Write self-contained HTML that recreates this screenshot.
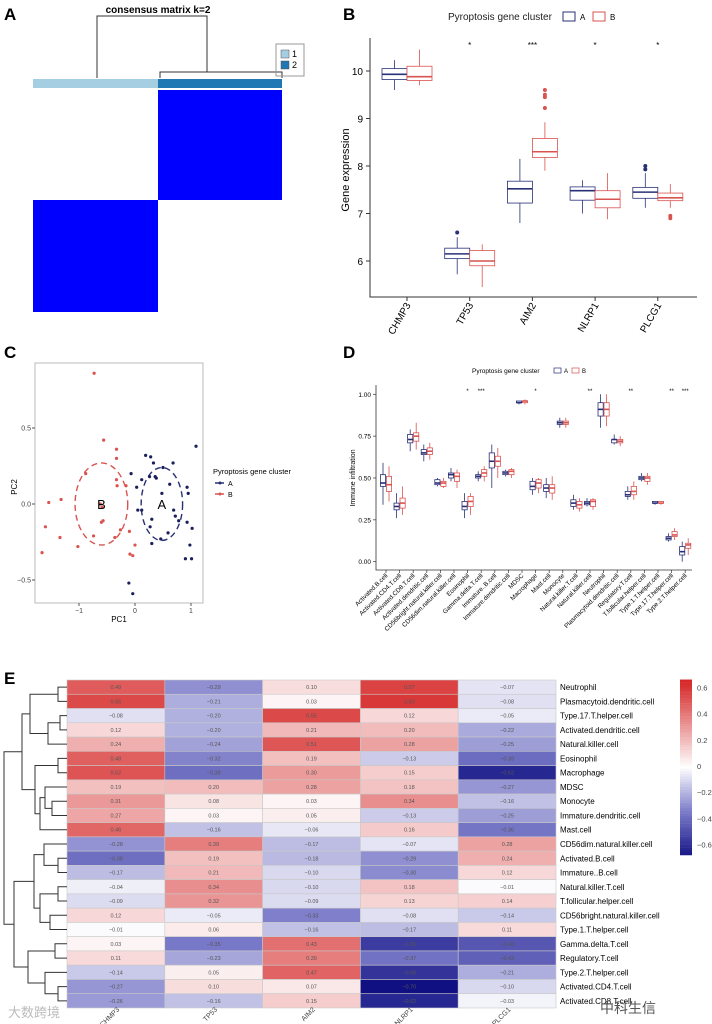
<!DOCTYPE html>
<html><head><meta charset="utf-8"><style>
body{margin:0;background:#fff}
svg{display:block;font-family:"Liberation Sans",Arial,sans-serif}
</style></head><body>
<svg id="fig" width="712" height="1024" viewBox="0 0 712 1024">
<g font-weight="bold" font-size="17">
<text x="4" y="20">A</text><text x="343" y="20">B</text><text x="4" y="358">C</text><text x="343" y="358">D</text><text x="4" y="684">E</text>
</g>
<!-- Panel A -->
<g>
<text x="158" y="13" text-anchor="middle" font-size="10" font-weight="bold">consensus matrix k=2</text>
<path d="M97 78V16H207V72M160 78V72H282V78M33 78H33" fill="none" stroke="#333" stroke-width="1"/>
<rect x="33" y="79" width="125" height="9" fill="#a6cee3"/>
<rect x="158" y="79" width="124" height="9" fill="#1f78b4"/>
<rect x="158" y="90" width="124" height="110" fill="#0000ff"/>
<rect x="33" y="200" width="125" height="112" fill="#0000ff"/>
<g font-size="9">
<rect x="276" y="44" width="28" height="32" fill="none" stroke="#999"/>
<rect x="281" y="50" width="8" height="8" fill="#a6cee3" stroke="#555" stroke-width=".5"/><text x="292" y="57">1</text>
<rect x="281" y="61" width="8" height="8" fill="#1f78b4" stroke="#555" stroke-width=".5"/><text x="292" y="68">2</text>
</g>
</g>
<g id="pb"></g>
<g id="pc"></g>
<g id="pd"></g>
<g id="pe"></g>
<g font-family="'Liberation Sans','Noto Sans CJK SC',sans-serif" fill="#bbb">
<text x="8" y="1017" font-size="13">大数跨境</text>
<text x="600" y="1013" font-size="14" fill="#555">中科生信</text>
</g>
</svg>
<script>
const NS="http://www.w3.org/2000/svg";
function mk(p,t,a){const e=document.createElementNS(NS,t);for(const k in a)e.setAttribute(k,a[k]);p.appendChild(e);return e;}
const colA="#283077", colB="#d9534f";

// ===== Panel B data =====
const bGenes=["CHMP3","TP53","AIM2","NLRP1","PLCG1"];
const bSig=["","*","***","*","*"];
const bMedA=[9.93,6.15,7.52,7.48,7.45];
const bQ1A=[9.82,6.05,7.22,7.28,7.32];
const bQ3A=[10.05,6.27,7.68,7.56,7.55];
const bLoA=[9.6,5.72,6.8,7.0,7.12];
const bHiA=[10.23,6.5,8.15,7.7,7.85];
const bMedB=[9.88,6.0,8.3,7.3,7.33];
const bQ1B=[9.8,5.9,8.18,7.12,7.27];
const bQ3B=[10.1,6.22,8.58,7.48,7.43];
const bLoB=[9.7,5.45,7.9,6.88,7.12];
const bHiB=[10.45,6.35,8.92,7.85,7.62];
const bOutA=[[],[6.6],[],[],[7.93,8.0]];
const bOutB=[[],[],[9.22,9.45,9.5,9.6],[],[6.9,6.95]];
const bTicks=[6,7,8,9,10];

// ===== Panel C data =====
const cRedX=[-0.73,-0.56,-0.33,-0.33,-0.88,-1.54,-1.32,-1.60,-1.34,-1.66,-1.02,-0.74,-0.57,-0.59,-0.33,-0.32,-0.16,-0.26,-0.36,-0.10,0.0,-0.09,-0.04,-0.60,-0.62];
const cRedY=[0.86,0.42,0.36,0.30,0.20,0.01,0.03,-0.15,-0.22,-0.32,-0.28,-0.21,-0.11,-0.02,0.16,0.12,0.12,-0.17,-0.22,-0.18,-0.27,-0.33,-0.34,-0.12,0.0];
const cBlueX=[0.19,0.28,0.33,0.50,0.68,-0.07,0.12,0.26,0.36,0.38,0.03,0.62,0.93,0.95,1.09,0.48,0.05,0.12,0.69,0.72,0.30,0.78,0.27,0.93,1.02,0.30,0.46,0.98,0.90,1.01,-0.11,-0.04,0.59];
const cBlueY=[0.32,0.31,0.27,0.24,0.27,0.20,0.16,0.18,0.18,0.17,0.11,0.13,0.11,0.07,0.38,0.07,-0.04,-0.04,-0.04,-0.08,-0.10,-0.11,-0.15,-0.12,-0.16,-0.26,-0.23,-0.27,-0.36,-0.36,-0.52,-0.59,-0.19];
const cXTicks=[-1,0,1];
const cYTicks=[-0.5,0.0,0.5];

// ===== Panel D data =====
const dCells=["Activated.B.cell","Activated.CD4.T.cell","Activated.CD8.T.cell","Activated.dendritic.cell","CD56bright.natural.killer.cell","CD56dim.natural.killer.cell","Eosinophil","Gamma.delta.T.cell","Immature..B.cell","Immature.dendritic.cell","MDSC","Macrophage","Mast.cell","Monocyte","Natural.killer.T.cell","Natural.killer.cell","Neutrophil","Plasmacytoid.dendritic.cell","Regulatory.T.cell","T.follicular.helper.cell","Type.1.T.helper.cell","Type.17.T.helper.cell","Type.2.T.helper.cell"];
const dSig=["","","","","","","*","***","","","","*","","","","**","","","**","","","**","***"];
const dMedA=[.47,.33,.73,.65,.47,.52,.33,.51,.60,.53,.95,.45,.44,.83,.35,.35,.91,.73,.40,.50,.35,.14,.06];
const dQ1A=[.45,.31,.71,.64,.46,.50,.31,.50,.56,.52,.95,.43,.42,.82,.33,.34,.87,.71,.39,.49,.35,.13,.04];
const dQ3A=[.52,.35,.76,.67,.49,.53,.36,.52,.65,.54,.96,.48,.46,.84,.37,.36,.95,.73,.42,.51,.36,.15,.09];
const dLoA=[.34,.26,.66,.60,.45,.48,.26,.48,.44,.51,.94,.40,.38,.80,.31,.33,.80,.70,.37,.48,.34,.12,.00];
const dHiA=[.59,.41,.79,.70,.50,.56,.41,.54,.70,.55,.96,.50,.50,.86,.40,.38,1.0,.76,.45,.53,.36,.17,.12];
const dMedB=[.46,.35,.75,.66,.47,.51,.36,.53,.60,.54,.96,.47,.44,.83,.34,.36,.91,.72,.42,.50,.35,.16,.10];
const dQ1B=[.42,.32,.72,.64,.45,.48,.33,.51,.57,.52,.95,.44,.41,.82,.32,.33,.87,.71,.40,.48,.35,.15,.08];
const dQ3B=[.51,.38,.77,.68,.48,.53,.39,.55,.63,.55,.96,.49,.46,.84,.36,.37,.95,.73,.45,.51,.36,.18,.11];
const dLoB=[.36,.28,.67,.61,.44,.44,.28,.48,.50,.50,.94,.41,.37,.80,.30,.31,.81,.69,.37,.46,.34,.13,.04];
const dHiB=[.57,.45,.83,.71,.50,.55,.41,.57,.68,.56,.97,.50,.51,.86,.38,.38,1.0,.75,.48,.53,.36,.20,.14];
const dTicks=[0,0.25,0.5,0.75,1.0];
const dTickLabels=["0.00","0.25","0.50","0.75","1.00"];

// ===== Panel E data =====
const eGenes=["CHMP3","TP53","AIM2","NLRP1","PLCG1"];
const eRows=["Neutrophil","Plasmacytoid.dendritic.cell","Type.17.T.helper.cell","Activated.dendritic.cell","Natural.killer.cell","Eosinophil","Macrophage","MDSC","Monocyte","Immature.dendritic.cell","Mast.cell","CD56dim.natural.killer.cell","Activated.B.cell","Immature..B.cell","Natural.killer.T.cell","T.follicular.helper.cell","CD56bright.natural.killer.cell","Type.1.T.helper.cell","Gamma.delta.T.cell","Regulatory.T.cell","Type.2.T.helper.cell","Activated.CD4.T.cell","Activated.CD8.T.cell"];
const eCHMP3=[0.49,0.55,-0.08,0.12,0.24,0.48,0.52,0.19,0.31,0.27,0.46,-0.28,-0.38,-0.17,-0.04,-0.09,0.12,-0.01,0.03,0.11,-0.14,-0.27,-0.26];
const eTP53=[-0.29,-0.21,-0.20,-0.20,-0.24,-0.32,-0.38,0.20,0.08,0.03,-0.16,0.39,0.19,0.21,0.34,0.32,-0.05,0.06,-0.35,-0.23,0.05,0.10,-0.16];
const eAIM2=[0.10,0.03,0.55,0.21,0.51,0.19,0.30,0.28,0.03,0.05,-0.06,-0.17,-0.18,-0.10,-0.10,-0.09,-0.33,-0.16,0.43,0.39,0.47,0.07,0.15];
const eNLRP1=[0.57,0.60,0.12,0.20,0.28,-0.13,0.15,0.18,0.34,-0.13,0.16,-0.07,-0.29,-0.30,0.18,0.13,-0.08,-0.17,-0.55,-0.37,-0.58,-0.70,-0.62];
const ePLCG1=[-0.07,-0.08,-0.05,-0.22,-0.25,-0.39,-0.62,-0.27,-0.16,-0.25,-0.36,0.28,0.24,0.12,-0.01,0.14,-0.14,0.11,-0.46,-0.43,-0.21,-0.10,-0.03];
const eTicks=[0.6,0.4,0.2,0,-0.2,-0.4,-0.6];

// ---------- helper: boxplot ----------
function box(g,cx,w,q1,med,q3,lo,hi,col,ys,name){
  const b=mk(g,"g",{});
  
  
  mk(b,"line",{x1:cx,x2:cx,y1:ys(hi),y2:ys(q3),stroke:col,"stroke-width":0.8});
  mk(b,"line",{x1:cx,x2:cx,y1:ys(q1),y2:ys(lo),stroke:col,"stroke-width":0.8});
  mk(b,"rect",{x:cx-w/2,y:ys(q3),width:w,height:Math.max(0.5,ys(q1)-ys(q3)),fill:"#fff",stroke:col,"stroke-width":0.8});
  mk(b,"line",{x1:cx-w/2,x2:cx+w/2,y1:ys(med),y2:ys(med),stroke:col,"stroke-width":1.6});
}

// ---------- Panel B ----------
(function(){
  const g=document.getElementById("pb");
  const y=v=>71+(10-v)*47.5, x=i=>407+i*62.7;
  mk(g,"path",{d:"M370 38V297H697",fill:"none",stroke:"#333","stroke-width":1});
  const lg=mk(g,"g",{font_size:10});
  
  
  const t=mk(lg,"text",{x:448,y:20,"font-size":10,fill:"#222"});t.textContent="Pyroptosis gene cluster";
  mk(lg,"rect",{x:563,y:12,width:12,height:9,fill:"#fff",stroke:colA});
  const ta=mk(lg,"text",{x:580,y:20,"font-size":8});ta.textContent="A";
  mk(lg,"rect",{x:593,y:12,width:12,height:9,fill:"#fff",stroke:colB});
  const tb=mk(lg,"text",{x:610,y:20,"font-size":8});tb.textContent="B";
  const yt=mk(g,"text",{x:0,y:0,"font-size":11,"text-anchor":"middle",transform:"translate(349 170) rotate(-90)"});yt.textContent="Gene expression";
  
  bTicks.forEach(v=>{mk(g,"line",{x1:366,x2:370,y1:y(v),y2:y(v),stroke:"#333"});
    const tt=mk(g,"text",{x:363,y:y(v)+4,"font-size":10,"text-anchor":"end"});tt.textContent=v;
    });
  bGenes.forEach((gn,i)=>{
    const cx=x(i);
    mk(g,"line",{x1:cx,x2:cx,y1:297,y2:301,stroke:"#333"});
    const lt=mk(g,"text",{x:0,y:0,"font-size":10,"text-anchor":"end",transform:`translate(${cx+4} 305) rotate(-60)`});lt.textContent=gn;
    
    const st=mk(g,"text",{x:cx,y:48,"font-size":8,"text-anchor":"middle"});st.textContent=bSig[i];
    box(g,cx-12.5,25,bQ1A[i],bMedA[i],bQ3A[i],bLoA[i],bHiA[i],colA,y,"box-a-"+gn);
    box(g,cx+12.5,25,bQ1B[i],bMedB[i],bQ3B[i],bLoB[i],bHiB[i],colB,y,"box-b-"+gn);
    bOutA[i].forEach(v=>{const c=mk(g,"circle",{cx:cx-12.5,cy:y(v),r:2,fill:colA});});
    bOutB[i].forEach(v=>{const c=mk(g,"circle",{cx:cx+12.5,cy:y(v),r:2,fill:colB});});
  });
})();

// ---------- Panel C ----------
(function(){
  const g=document.getElementById("pc");
  const x=v=>135+v*56, y=v=>504-v*152;
  mk(g,"rect",{x:35,y:363,width:168,height:240,fill:"#fff",stroke:"#bbb","stroke-width":1});
  cXTicks.forEach(v=>{mk(g,"line",{x1:x(v),x2:x(v),y1:603,y2:606,stroke:"#555"});
    const t=mk(g,"text",{x:x(v),y:613,"font-size":7,"text-anchor":"middle",fill:"#444"});t.textContent=v===-1?"\u22121":v;
    });
  cYTicks.forEach(v=>{mk(g,"line",{x1:32,x2:35,y1:y(v),y2:y(v),stroke:"#555"});
    const t=mk(g,"text",{x:31,y:y(v)+2.5,"font-size":7,"text-anchor":"end",fill:"#444"});t.textContent=v===-0.5?"\u22120.5":v.toFixed(1);
    });
  const xt=mk(g,"text",{x:119,y:622,"font-size":8,"text-anchor":"middle"});xt.textContent="PC1";
  
  const yt=mk(g,"text",{x:0,y:0,"font-size":8,"text-anchor":"middle",transform:"translate(17 487) rotate(-90)"});yt.textContent="PC2";
  
  const eb=mk(g,"ellipse",{cx:x(-0.6),cy:y(0.0),rx:0.47*56,ry:0.27*152,fill:"none",stroke:colB,"stroke-width":1.4,"stroke-dasharray":"6 4"});
  
  const ea=mk(g,"ellipse",{cx:x(0.48),cy:y(0.0),rx:0.37*56,ry:0.24*152,fill:"none",stroke:colA,"stroke-width":1.4,"stroke-dasharray":"6 4"});
  
  cRedX.forEach((v,i)=>{const c=mk(g,"circle",{cx:x(v),cy:y(cRedY[i]),r:1.6,fill:colB});});
  cBlueX.forEach((v,i)=>{const c=mk(g,"circle",{cx:x(v),cy:y(cBlueY[i]),r:1.6,fill:"#1a1f5a"});});
  const lb=mk(g,"text",{x:x(-0.6),y:y(0)+5,"font-size":13,"text-anchor":"middle"});lb.textContent="B";
  const la=mk(g,"text",{x:x(0.48),y:y(0)+5,"font-size":13,"text-anchor":"middle"});la.textContent="A";
  const lg=mk(g,"g",{});
  const t=mk(lg,"text",{x:213,y:474,"font-size":7.5});t.textContent="Pyroptosis gene cluster";
  mk(lg,"line",{x1:215,x2:224,y1:483,y2:483,stroke:colA,"stroke-width":1.5});mk(lg,"circle",{cx:220,cy:483,r:1.5,fill:colA});
  const a=mk(lg,"text",{x:228,y:486,"font-size":7});a.textContent="A";
  mk(lg,"line",{x1:215,x2:224,y1:494,y2:494,stroke:colB,"stroke-width":1.5});mk(lg,"circle",{cx:220,cy:494,r:1.5,fill:colB});
  const b=mk(lg,"text",{x:228,y:497,"font-size":7});b.textContent="B";
})();

// ---------- Panel D ----------
(function(){
  const g=document.getElementById("pd");
  const y=v=>561.7-v*167.4, x=i=>386+i*13.6;
  mk(g,"path",{d:"M376 385V570H692",fill:"none",stroke:"#333","stroke-width":0.8});
  const lg=mk(g,"g",{});
  const t=mk(lg,"text",{x:472,y:373,"font-size":6.5});t.textContent="Pyroptosis gene cluster";
  mk(lg,"rect",{x:554,y:368,width:7,height:5,fill:"#fff",stroke:colA,"stroke-width":.7});
  const ta=mk(lg,"text",{x:564,y:373,"font-size":6});ta.textContent="A";
  mk(lg,"rect",{x:572,y:368,width:7,height:5,fill:"#fff",stroke:colB,"stroke-width":.7});
  const tb=mk(lg,"text",{x:582,y:373,"font-size":6});tb.textContent="B";
  const yt=mk(g,"text",{x:0,y:0,"font-size":7,"text-anchor":"middle",transform:"translate(355 478) rotate(-90)"});yt.textContent="Immune infiltration";
  
  dTicks.forEach((v,i)=>{mk(g,"line",{x1:373,x2:376,y1:y(v),y2:y(v),stroke:"#333","stroke-width":.7});
    const tt=mk(g,"text",{x:371,y:y(v)+2.5,"font-size":6.5,"text-anchor":"end"});tt.textContent=dTickLabels[i];
    });
  dCells.forEach((c,i)=>{
    const cx=x(i);
    mk(g,"line",{x1:cx,x2:cx,y1:570,y2:573,stroke:"#333","stroke-width":.7});
    const lt=mk(g,"text",{x:0,y:0,"font-size":6.3,"text-anchor":"end",transform:`translate(${cx+2} 576) rotate(-45)`});lt.textContent=c;
    
    const st=mk(g,"text",{x:cx,y:393,"font-size":6,"text-anchor":"middle"});st.textContent=dSig[i];
    box(g,cx-3,5.2,dQ1A[i],dMedA[i],dQ3A[i],dLoA[i],dHiA[i],colA,y,"box-a-"+c);
    box(g,cx+3,5.2,dQ1B[i],dMedB[i],dQ3B[i],dLoB[i],dHiB[i],colB,y,"box-b-"+c);
  });
})();

// ---------- Panel E ----------
(function(){
  const g=document.getElementById("pe");
  const cols=[eCHMP3,eTP53,eAIM2,eNLRP1,ePLCG1];
  const x0=67,cw=97.8,y0=680,rh=14.26;
  function color(v){
    let r,gg,b;
    if(v>=0){const t=Math.min(1,v/0.65);r=255+(214-255)*t;gg=255+(40-255)*t;b=255+(40-255)*t;}
    else{const t=Math.min(1,-v/0.7);
      if(t<0.5){const s=t/0.5;r=255+(120-255)*s;gg=255+(120-255)*s;b=255+(200-255)*s;}
      else{const s=(t-0.5)/0.5;r=120+(16-120)*s;gg=120+(16-120)*s;b=200+(130-200)*s;}}
    return `rgb(${r|0},${gg|0},${b|0})`;
  }
  cols.forEach((arr,j)=>{
    arr.forEach((v,i)=>{
      const r=mk(g,"rect",{x:x0+j*cw,y:y0+i*rh,width:cw,height:rh,fill:color(v),stroke:"#c8c8c8","stroke-width":0.6});
      
      
      const t=mk(g,"text",{x:x0+j*cw+cw/2,y:y0+i*rh+rh/2+2,"font-size":5.5,"text-anchor":"middle",fill:"#555"});
      t.textContent=v<0?"\u2212"+(-v).toFixed(2):v.toFixed(2);
    });
  });
  eRows.forEach((n,i)=>{const t=mk(g,"text",{x:560,y:y0+i*rh+rh/2+3,"font-size":8});t.textContent=n;
    });
  eGenes.forEach((n,j)=>{const t=mk(g,"text",{x:0,y:0,"font-size":7,"text-anchor":"end",fill:"#444",transform:`translate(${x0+j*cw+cw/2+4} 1010) rotate(-45)`});t.textContent=n;
    });
  // colorbar
  const cb=mk(g,"g",{});
  const cy=v=>766-v*131;
  for(let v=0.66;v>-0.68;v-=0.02){mk(cb,"rect",{x:680,y:cy(v),width:12,height:2.8,fill:color(v)});}
  eTicks.forEach(v=>{const t=mk(cb,"text",{x:697,y:cy(v)+3,"font-size":7.5,fill:"#444"});t.textContent=v<0?"\u2212"+(-v):v;});
  // dendrogram
  const rc=i=>y0+i*rh+rh/2;
  const L=i=>({y:rc(i),x:x0});
  const J=(xx,a,b)=>({x:xx,y:(a.y+b.y)/2,a,b});
  const T=J(22,J(30,J(58,L(0),L(1)),J(48,J(60,L(2),L(3)),L(4))),J(35,J(58,L(5),L(6)),J(40,J(45,L(7),J(52,L(8),L(9))),L(10))));
  const B=J(14,J(34,J(44,L(11),J(58,L(12),L(13))),J(40,J(58,L(14),L(15)),J(50,L(16),L(17)))),J(28,J(55,L(18),L(19)),J(45,L(20),J(58,L(21),L(22)))));
  const R=J(4,T,B);
  let d="";
  (function draw(n){if(!n.a)return;d+=`M${n.a.x} ${n.a.y}H${n.x}V${n.b.y}H${n.b.x}`;draw(n.a);draw(n.b);})(R);
  const p=mk(g,"path",{d,fill:"none",stroke:"#333","stroke-width":1});
  
})();
</script>
</body></html>
